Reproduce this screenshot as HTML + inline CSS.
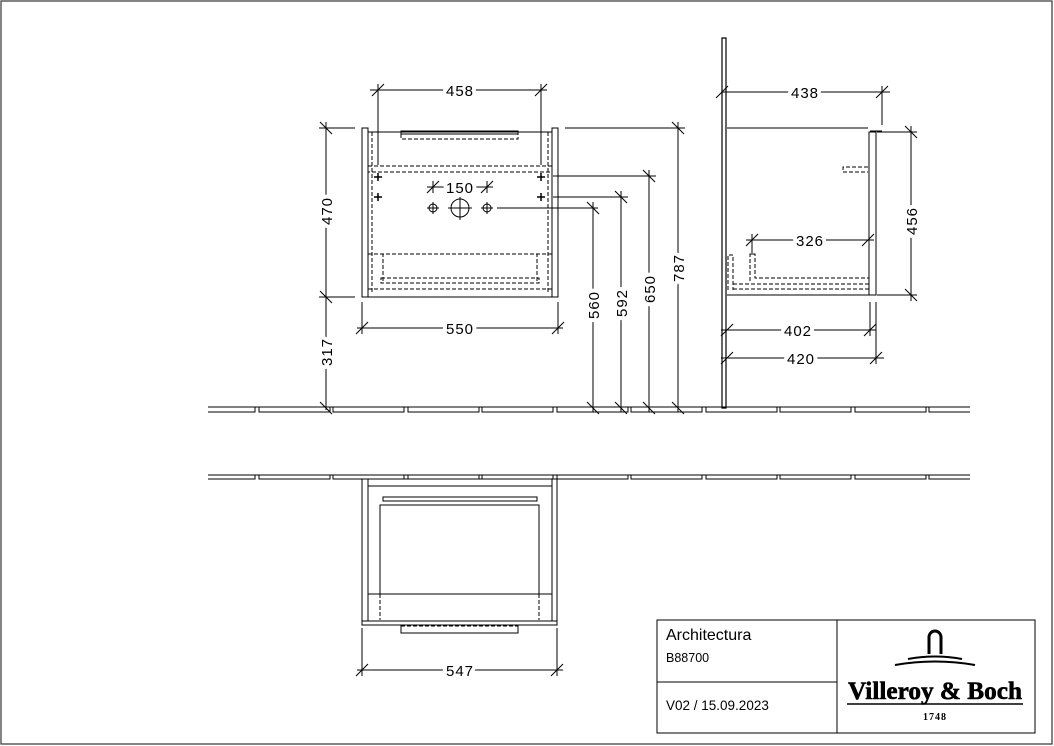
<!DOCTYPE html>
<html><head><meta charset="utf-8"><style>
html,body{margin:0;padding:0;background:#fff}
svg{display:block}
.l{stroke:#000;stroke-width:1;fill:none}
.t{stroke:#000;stroke-width:1.5;fill:none}
.d{stroke:#000;stroke-width:1;fill:none;stroke-dasharray:4 2}
.tx{font-family:"Liberation Sans",sans-serif;font-size:15px;fill:#000;letter-spacing:1px;paint-order:stroke;stroke:#fff;stroke-width:8px;stroke-linejoin:round}
</style></head><body>
<svg width="1054" height="746" viewBox="0 0 1054 746" xmlns="http://www.w3.org/2000/svg">
<rect x="1" y="1" width="1051" height="743" fill="none" stroke="#333" stroke-width="1.2"/>

<g class="l">
<line x1="208" y1="407" x2="970" y2="407"/>
<path d="M208 412H255V407M259 407V412H330V407M333 407V412H404V407M408 407V412H479V407M482 407V412H553V407M557 407V412H628V407M631 407V412H702V407M706 407V412H777V407M780 407V412H851V407M855 407V412H926V407M929 407V412H970"/>
<line x1="208" y1="475" x2="970" y2="475"/>
<path d="M208 479H255V475M259 475V479H330V475M333 475V479H404V475M408 475V479H479V475M482 475V479H553V475M557 475V479H628V475M631 475V479H702V475M706 475V479H777V475M780 475V479H851V475M855 475V479H926V475M929 475V479H970"/>
</g>

<!-- FRONT VIEW -->
<g class="l">
<rect x="362" y="128" width="6" height="169"/>
<rect x="552" y="128" width="6" height="169"/>
<line x1="368" y1="132" x2="552" y2="132"/>
<line x1="368" y1="297" x2="552" y2="297"/>
<rect x="401" y="131" width="117" height="3"/>
</g>
<g class="d">
<path d="M401 134V139H518V134"/>
<line x1="372" y1="132" x2="372" y2="293"/>
<line x1="548" y1="132" x2="548" y2="293"/>
<rect x="368" y="166" width="184" height="6"/>
<line x1="368" y1="254" x2="552" y2="254"/>
<line x1="368" y1="289" x2="552" y2="289"/>
<path d="M383 281V254H537V281"/>
<rect x="381" y="278" width="158" height="5"/>
</g>
<g class="t">
<path d="M374 177h8M378 173v8M537 177h8M541 173v8M374 197h8M378 193v8M537 197h8M541 193v8"/>
</g>
<g class="l">
<circle cx="433" cy="208" r="4"/><path d="M427 208h12M433 202v12"/>
<circle cx="460" cy="208" r="9"/><path d="M448 208h24M460 196v24"/>
<circle cx="487" cy="208" r="4"/><path d="M481 208h12M487 202v12"/>
</g>
<g class="l">
<path d="M370 90H547M378 84V165M541 84V165"/>
<path d="M372 96l12-12M535 96l12-12"/>
<path d="M319 128H355M319 297H355M326 122V410"/>
<path d="M320 122l12 12M320 291l12 12M320 402l12 12"/>
<path d="M357 328H563M362 302V334M558 302V334"/>
<path d="M356 334l12-12M552 334l12-12"/>
<path d="M427 187H493M433 181V193M487 181V193M427 193l12-12M481 193l12-12"/>
<path d="M497 208H598M593 202V412M587 202l12 12M587 402l12 12"/>
<path d="M553 197H628M621 191V412M615 191l12 12M615 402l12 12"/>
<path d="M553 176H656M649 170V412M643 170l12 12M643 402l12 12"/>
<path d="M565 128H685M678 122V412M672 122l12 12M672 402l12 12"/>
</g>
<text class="tx" x="460" y="96" text-anchor="middle">458</text>
<text class="tx" x="460" y="193" text-anchor="middle">150</text>
<text class="tx" x="460" y="334" text-anchor="middle">550</text>
<text class="tx" transform="translate(332,211) rotate(-90)" text-anchor="middle">470</text>
<text class="tx" transform="translate(332,352) rotate(-90)" text-anchor="middle">317</text>
<text class="tx" transform="translate(599,305) rotate(-90)" text-anchor="middle">560</text>
<text class="tx" transform="translate(627,303) rotate(-90)" text-anchor="middle">592</text>
<text class="tx" transform="translate(655,289) rotate(-90)" text-anchor="middle">650</text>
<text class="tx" transform="translate(684,268) rotate(-90)" text-anchor="middle">787</text>

<!-- SIDE VIEW -->
<g class="l">
<path d="M722 38H726V408H722Z" stroke-width="1.2"/>
<line x1="727" y1="128" x2="868" y2="128"/>
<line x1="727" y1="295" x2="870" y2="295"/>
<rect x="869" y="132" width="7" height="163"/>
<path d="M870 131H882"/>
</g>
<g class="d">
<path d="M868 167H843V172H868"/>
<path d="M728 290V255H733V290"/>
<path d="M750 281V254H755V278H869"/>
<path d="M733 284H869M733 289H869"/>
</g>
<g class="l">
<path d="M722 92H890M882 86V125M716 98l12-12M876 98l12-12"/>
<path d="M877 132H917M877 295H917M911 126V301M905 126l12 12M905 289l12 12"/>
<path d="M746 240H874M752 234V255M746 246l12-12M862 246l12-12"/>
<path d="M721 330H876M870 302V336M721 336l12-12M864 336l12-12"/>
<path d="M721 358H884M876 302V364M721 364l12-12M870 364l12-12"/>
</g>
<text class="tx" x="805" y="98" text-anchor="middle">438</text>
<text class="tx" x="810" y="246" text-anchor="middle">326</text>
<text class="tx" x="798" y="336" text-anchor="middle">402</text>
<text class="tx" x="801" y="364" text-anchor="middle">420</text>
<text class="tx" transform="translate(917,221) rotate(-90)" text-anchor="middle">456</text>

<!-- TOP VIEW -->
<g class="l">
<rect x="362" y="479" width="195" height="142"/>
<rect x="368" y="479" width="184" height="142"/>
<line x1="368" y1="486" x2="552" y2="486"/>
<rect x="383" y="497" width="154" height="4"/>
<path d="M380 594V505H539V594"/>
<line x1="368" y1="594" x2="552" y2="594"/>
<rect x="362" y="621" width="195" height="4"/>
<rect x="401" y="625" width="117" height="8"/>
<path d="M362 628V676M557 628V676M356 676l12-12M551 676l12-12M357 670H563"/>
</g>
<g class="d">
<path d="M380 594V620M539 594V620M401 626H518"/>
</g>
<text class="tx" x="460" y="676" text-anchor="middle">547</text>

<!-- title block -->
<g stroke="#000" stroke-width="1" fill="none">
<rect x="657" y="620" width="378" height="113"/>
<line x1="837" y1="620" x2="837" y2="733"/>
<line x1="657" y1="682" x2="837" y2="682"/>
</g>
<text x="666" y="640" font-family="Liberation Sans,sans-serif" font-size="16">Architectura</text>
<text x="666" y="662" font-family="Liberation Sans,sans-serif" font-size="12.5">B88700</text>
<text x="666" y="710" font-family="Liberation Sans,sans-serif" font-size="13.5">V02 / 15.09.2023</text>
<g fill="none" stroke="#000" stroke-width="3">
<path d="M929 654V637a6 6 0 0 1 12 0V654"/>
</g>
<g stroke="#000" fill="none">
<path d="M908 659Q935 654 962 659" stroke-width="2"/>
<path d="M895 665Q935 658 975 665" stroke-width="2"/>
</g>
<text x="848" y="699" textLength="174" lengthAdjust="spacingAndGlyphs" font-family="Liberation Serif,serif" font-weight="bold" font-size="25" stroke="#000" stroke-width="0.6">Villeroy &amp; Boch</text>
<line x1="847" y1="704" x2="1023" y2="704" stroke="#000" stroke-width="1.5"/>
<text x="935" y="720" text-anchor="middle" font-family="Liberation Serif,serif" font-weight="bold" font-size="10" letter-spacing="1">1748</text>
</svg>
</body></html>
